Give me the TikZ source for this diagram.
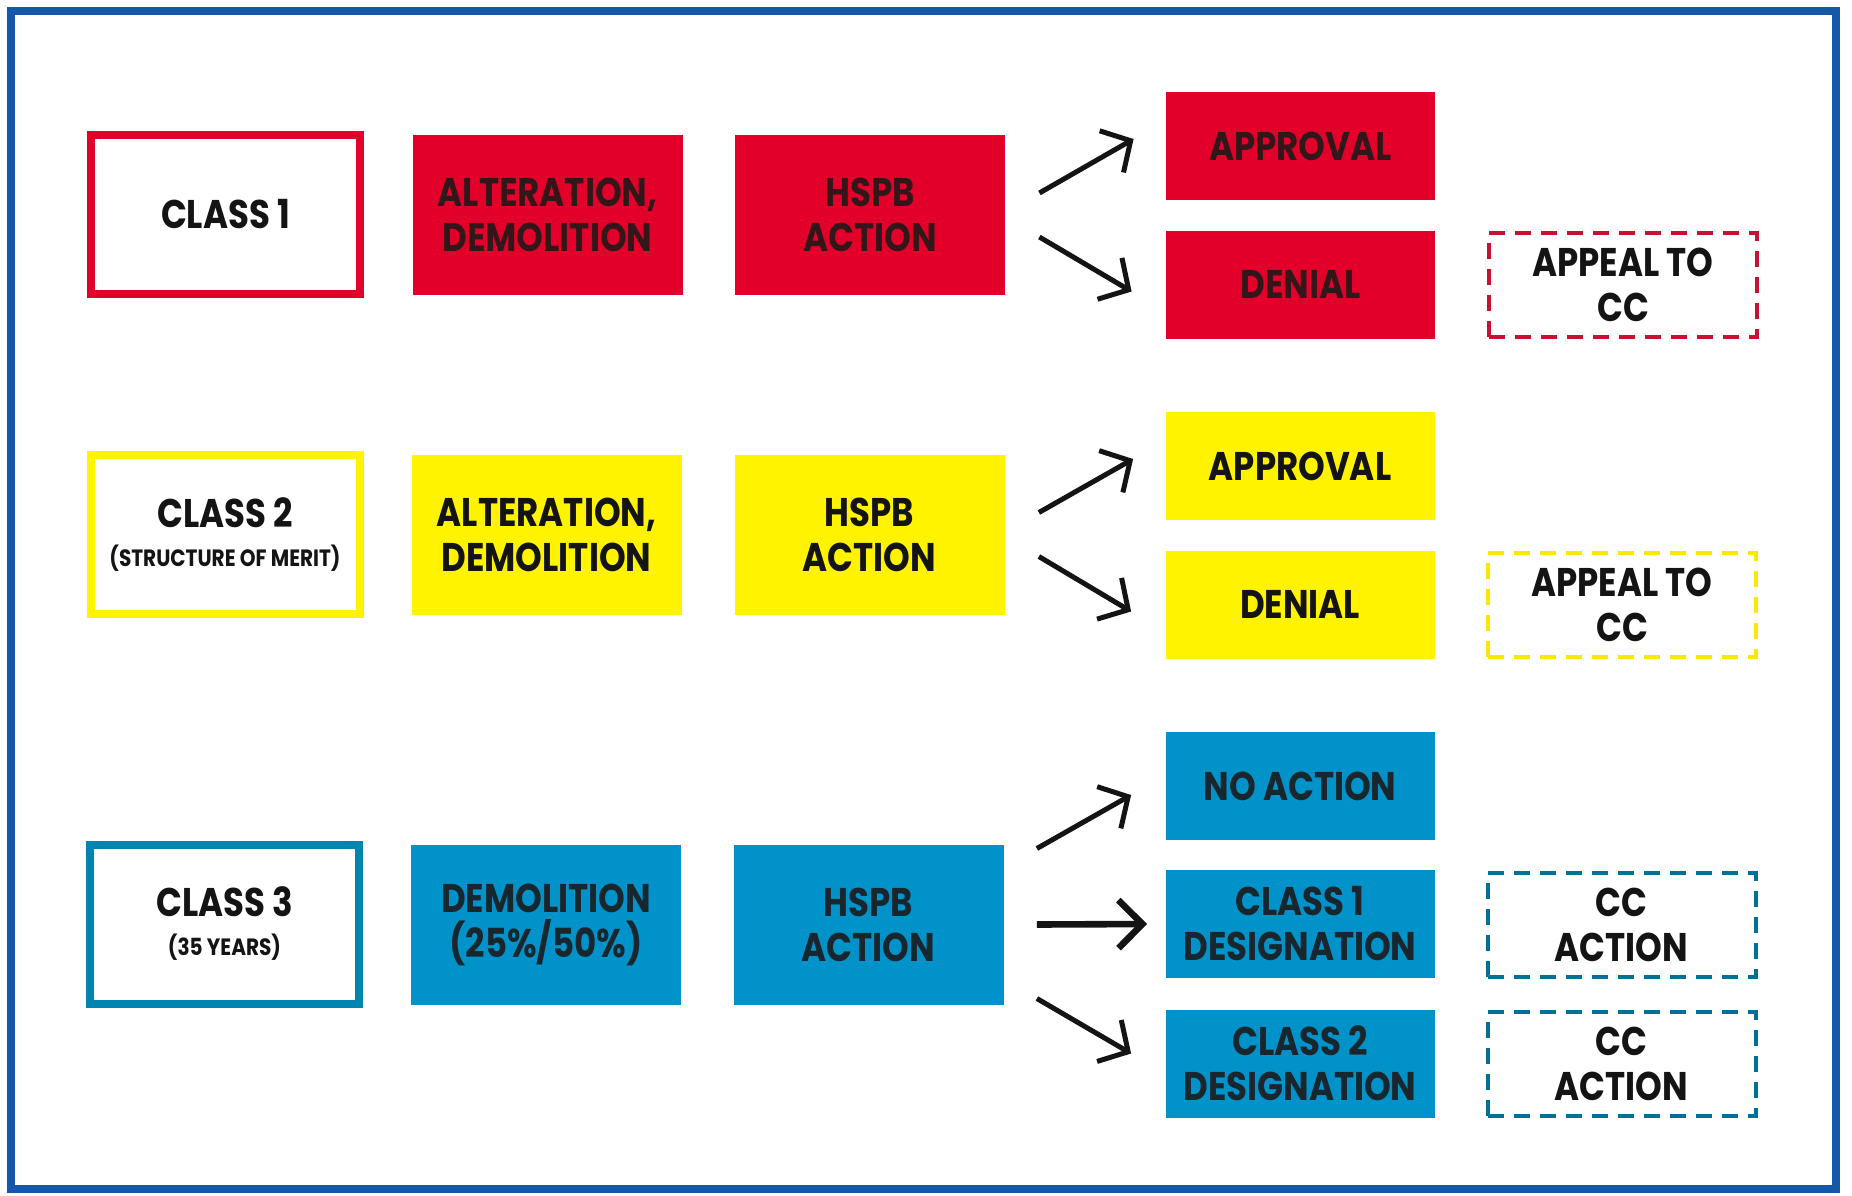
\documentclass[tikz,border=0pt]{standalone}
\usepackage{fontspec}
\setsansfont{Poppins}[FakeStretch=0.85]
\usetikzlibrary{arrows.meta}
\definecolor{cred}{RGB}{226,0,42}
\definecolor{cyel}{RGB}{255,243,0}
\definecolor{cteal}{RGB}{0,146,200}
\definecolor{cteald}{RGB}{0,132,176}
\definecolor{ctealdash}{RGB}{0,112,150}
\definecolor{creddash}{RGB}{200,16,50}
\definecolor{cyeldash}{RGB}{255,232,0}
\definecolor{cframe}{RGB}{22,88,168}
\definecolor{txtr}{RGB}{50,22,26}
\definecolor{txtb}{RGB}{24,38,46}
\definecolor{txtk}{RGB}{20,20,20}
\begin{document}
\begin{tikzpicture}[x=0.5pt,y=-0.5pt,
  every node/.style={font=\sffamily\bfseries\fontsize{20}{22.5}\selectfont, align=center, inner sep=0pt, text=txtk},
  classbox/.style={draw=#1, line width=4pt, fill=white, minimum width=134.5pt, minimum height=79.5pt},
  solidbox/.style={fill=#1, minimum width=135pt, minimum height=80pt},
  outbox/.style={fill=#1, minimum width=134.5pt, minimum height=54pt},
  ccbox/.style={draw=#1, line width=2pt, dash pattern=on 8pt off 5pt, fill=white, minimum width=134pt, minimum height=52pt},
  arr/.style={draw=black!92, line width=2.5pt, -{Straight Barb[length=11pt,width=24pt]}},
  arrh/.style={draw=black!92, line width=3.3pt, -{Straight Barb[length=12pt,width=24pt]}}
]
\useasboundingbox (0,0) rectangle (1852,1195);
\fill[white] (0,0) rectangle (1852,1195);
\draw[cframe, line width=4pt] (11,11) rectangle (1836,1189);

% Row 1
\node[classbox=cred] (c1) at (225.5,214.5) {CLASS 1};
\node[solidbox=cred, text=txtr] (a1) at (547.5,215) {ALTERATION,\\DEMOLITION};
\node[solidbox=cred, text=txtr] (h1) at (870,215) {HSPB\\ACTION};
\node[outbox=cred, text=txtr] (ap1) at (1300.5,146) {APPROVAL};
\node[outbox=cred, text=txtr] (d1) at (1300.5,284.5) {DENIAL};
\node[ccbox=creddash] (cc1) at (1623,285) {APPEAL TO\\CC};
\draw[arr] ([xshift=17pt,yshift=11pt]h1.east) -- ([xshift=-16pt,yshift=3.5pt]ap1.west);
\draw[arr] ([xshift=17pt,yshift=-11pt]h1.east) -- ([xshift=-17pt,yshift=-3.5pt]d1.west);

% Row 2
\node[classbox=cyel] (c2) at (225,534.5) {CLASS 2\\[-3pt]{\fontsize{11.8}{14}\selectfont (STRUCTURE OF MERIT)}};
\node[solidbox=cyel] (a2) at (546.5,534.5) {ALTERATION,\\DEMOLITION};
\node[solidbox=cyel] (h2) at (869.5,534.5) {HSPB\\ACTION};
\node[outbox=cyel] (ap2) at (1300,466) {APPROVAL};
\node[outbox=cyel] (d2) at (1300,604.5) {DENIAL};
\node[ccbox=cyeldash] (cc2) at (1622,605) {APPEAL TO\\CC};
\draw[arr] ([xshift=17pt,yshift=11pt]h2.east) -- ([xshift=-16pt,yshift=3.5pt]ap2.west);
\draw[arr] ([xshift=17pt,yshift=-11pt]h2.east) -- ([xshift=-17pt,yshift=-3.5pt]d2.west);

% Row 3
\node[classbox=cteald] (c3) at (224.5,924) {CLASS 3\\[-3pt]{\fontsize{11.8}{14}\selectfont (35 YEARS)}};
\node[solidbox=cteal, text=txtb] (dm3) at (546,924.5) {DEMOLITION\\(25\%/50\%)};
\node[solidbox=cteal, text=txtb] (h3) at (868.5,924.5) {HSPB\\ACTION};
\node[outbox=cteal, text=txtb] (na) at (1300,786) {NO ACTION};
\node[outbox=cteal, text=txtb] (cd1) at (1300,924) {CLASS 1\\DESIGNATION};
\node[outbox=cteal, text=txtb] (cd2) at (1300,1063.5) {CLASS 2\\DESIGNATION};
\node[ccbox=ctealdash] (cca) at (1621.5,925) {CC\\ACTION};
\node[ccbox=ctealdash] (ccb) at (1621.5,1064) {CC\\ACTION};
\draw[arr] ([xshift=16.5pt,yshift=38pt]h3.east) -- ([xshift=-17pt,yshift=-4.5pt]na.west);
\draw[arrh] ([xshift=16.5pt]h3.east) -- ([xshift=-9pt]cd1.west);
\draw[arr] ([xshift=16.5pt,yshift=-37pt]h3.east) -- ([xshift=-17pt,yshift=5pt]cd2.west);
\end{tikzpicture}
\end{document}
